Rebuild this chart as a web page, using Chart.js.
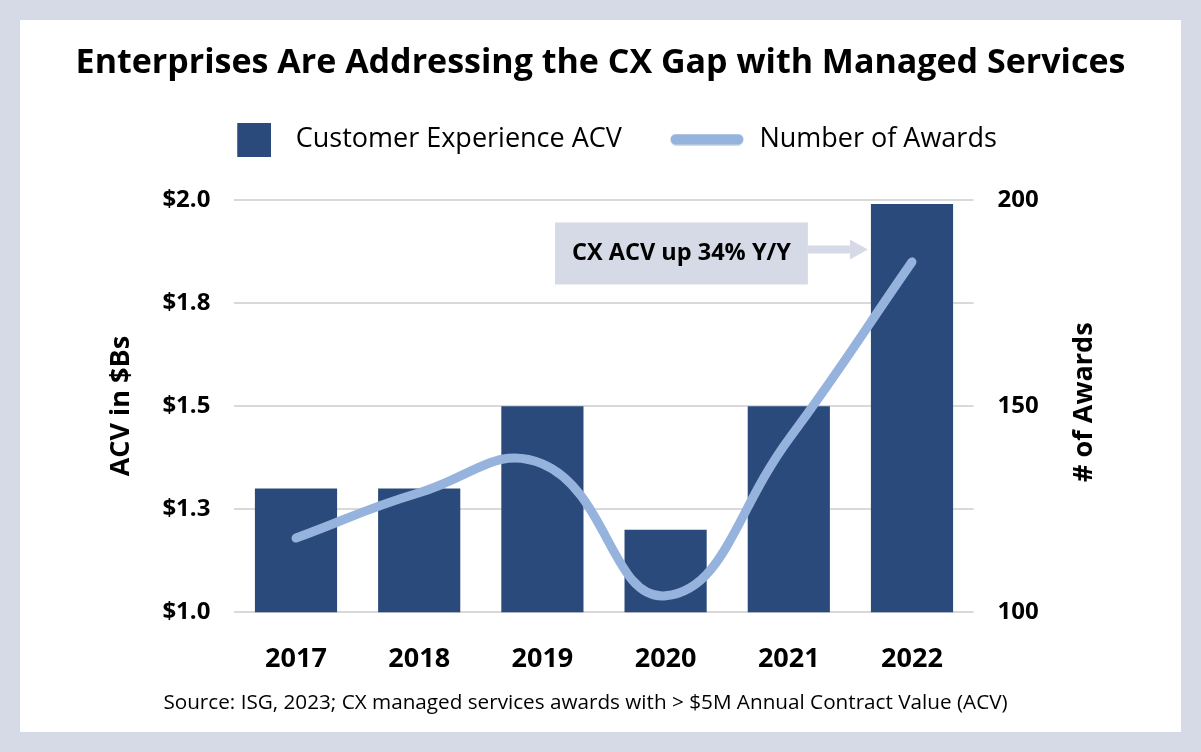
<!DOCTYPE html>
<html>
<head>
<meta charset="utf-8">
<title>Enterprises Are Addressing the CX Gap with Managed Services</title>
<script src="https://cdn.jsdelivr.net/npm/chart.js@4.4.1/dist/chart.umd.min.js"></script>
<style>
  html, body { margin: 0; padding: 0; }
  body { width: 1201px; height: 752px; background: #d5dae6; overflow: hidden; }
  .card { position: absolute; left: 20px; top: 20px; width: 1161px; height: 712px; background: #fff; }
</style>
</head>
<body>
<div class="card"><canvas id="cxChart"></canvas></div>
<script>
const years = ["2017", "2018", "2019", "2020", "2021", "2022"];
const acvBillions = [1.30, 1.30, 1.50, 1.20, 1.50, 1.99];
const awardCounts = [118, 129, 136, 104, 142, 185];
const acvTicks = [1.0, 1.25, 1.5, 1.75, 2.0];
const awardTicks = [100, 150, 200];

const calloutText = "CX ACV up 34% Y/Y";
const calloutAt = 1.88; // ACV level the arrow points at, beside the 2022 bar
const sourceNote = "Source: ISG, 2023; CX managed services awards with > $5M Annual Contract Value (ACV)";

const BAR_COLOR = "#2a4a7b";
const LINE_COLOR = "#95b3dc";
const CALLOUT_COLOR = "#d5dae6";
const GRID_COLOR = "#d9d9d9";

Chart.defaults.font.family = "'Open Sans', sans-serif";
Chart.defaults.color = "#000";

// legend markers: a square for the bars, a thick rounded stroke for the line
function squareMarker() {
  const c = document.createElement("canvas");
  c.width = 56; c.height = 34;
  const g = c.getContext("2d");
  g.fillStyle = BAR_COLOR;
  g.fillRect(22, 0, 34, 34);
  return c;
}
function lineMarker() {
  const c = document.createElement("canvas");
  c.width = 74; c.height = 12;
  const g = c.getContext("2d");
  g.strokeStyle = LINE_COLOR;
  g.lineWidth = 11;
  g.lineCap = "round";
  g.beginPath();
  g.moveTo(6, 6);
  g.lineTo(68, 6);
  g.stroke();
  return c;
}

//callout box + arrow, right axis title (reads bottom to top), source line
const extras = {
  id: "extras",
  afterDatasetsDraw(chart) {
    const { ctx, scales } = chart;
    const bar = chart.getDatasetMeta(0).data[years.length - 1];
    const tipX = bar.x - bar.width / 2 - 3;
    const tipY = scales.y.getPixelForValue(calloutAt);
    ctx.save();
    ctx.font = "bold 23.5px 'Open Sans'";
    const boxW = ctx.measureText(calloutText).width + 34;
    const boxH = 62;
    const boxR = tipX - 60;
    const boxL = boxR - boxW;
    const boxT = tipY + 4 - boxH / 2;
    ctx.fillStyle = CALLOUT_COLOR;
    ctx.fillRect(boxL, boxT, boxW, boxH);
    ctx.fillRect(boxR, tipY - 4, 42, 8);
    ctx.beginPath();
    ctx.moveTo(boxR + 42, tipY - 10);
    ctx.lineTo(tipX, tipY);
    ctx.lineTo(boxR + 42, tipY + 10);
    ctx.closePath();
    ctx.fill();
    ctx.fillStyle = "#000";
    ctx.textAlign = "center";
    ctx.textBaseline = "middle";
    ctx.fillText(calloutText, boxL + boxW / 2, boxT + boxH / 2);
    ctx.restore();
  },
  afterDraw(chart) {
    const { ctx, chartArea } = chart;
    const s = chart.scales.y2;
    ctx.save();
    ctx.fillStyle = "#000";
    ctx.textAlign = "center";
    ctx.textBaseline = "middle";
    ctx.translate(s.right - 97, (chartArea.top + chartArea.bottom) / 2 - 4);
    ctx.rotate(-Math.PI / 2);
    ctx.font = "bold 27px 'Open Sans'";
    ctx.fillText("# of Awards", 0, 0);
    ctx.restore();

    const x = chart.scales.x;
    ctx.save();
    ctx.fillStyle = "#000";
    ctx.textAlign = "center";
    ctx.textBaseline = "middle";
    ctx.font = "20.7px 'Open Sans'";
    ctx.fillText(sourceNote, chart.width / 2 - 15, x.bottom - 29);
    ctx.restore();
  }
};

const ctx = document.getElementById("cxChart");
new Chart(ctx, {
  data: {
    labels: years,
    datasets: [
      {
        type: "bar",
        label: "Customer Experience ACV",
        data: acvBillions,
        backgroundColor: BAR_COLOR,
        borderWidth: 0,
        barPercentage: 0.667,
        categoryPercentage: 1,
        yAxisID: "y",
        order: 1,
      },
      {
        type: "line",
        label: "Number of Awards",
        data: awardCounts,
        borderColor: LINE_COLOR,
        borderWidth: 9,
        borderCapStyle: "round",
        borderJoinStyle: "round",
        tension: 0.45,
        pointRadius: 0,
        fill: false,
        yAxisID: "y2",
        order: 0,
      },
    ],
  },
  options: {
    responsive: true,
    maintainAspectRatio: false,
    animation: false,
    events: [],
    layout: { padding: 0 },
    plugins: {
      tooltip: { enabled: false },
      title: {
        display: true,
        text: "Enterprises Are Addressing the CX Gap with Managed Services",
        font: { size: 34, weight: "bold", lineHeight: 1 },
        padding: { top: 26, bottom: 0 },
      },
      legend: {
        position: "top",
        labels: {
          usePointStyle: true,
          pointStyleWidth: 78,
          padding: 46,
          font: { size: 27 },
          generateLabels: (chart) => [
            { text: chart.data.datasets[0].label, pointStyle: squareMarker(), fillStyle: BAR_COLOR, lineWidth: 0, datasetIndex: 0 },
            { text: chart.data.datasets[1].label, pointStyle: lineMarker(), fillStyle: LINE_COLOR, lineWidth: 0, datasetIndex: 1 },
          ],
        },
      },
      // empty block = gap between legend and plot
      subtitle: {
        display: true,
        text: "",
        position: "top",
        weight: 500,
        font: { size: 10 },
        padding: { top: 25, bottom: 0 },
      },
    },
    scales: {
      x: {
        grid: { display: false },
        border: { display: false },
        ticks: { padding: 23, font: { size: 27, weight: "bold" } },
        // room under the year labels for the source line
        afterFit: (s) => { s.height = 119.7; },
      },
      y: {
        position: "left",
        min: 1,
        max: 2,
        afterBuildTicks: (s) => { s.ticks = acvTicks.map((v) => ({ value: v })); },
        ticks: {
          padding: 24,
          font: { size: 24, weight: "bold" },
          callback: (v) => "$" + v.toFixed(1),
        },
        grid: { color: GRID_COLOR, lineWidth: 2, drawTicks: false },
        border: { display: false },
        title: {
          display: true,
          text: "ACV in $Bs",
          font: { size: 27, weight: "bold" },
          padding: { top: 85, bottom: 0 },
        },
        afterFit: (s) => { s.width = 214.4; },
      },
      y2: {
        position: "right",
        min: 100,
        max: 200,
        afterBuildTicks: (s) => { s.ticks = awardTicks.map((v) => ({ value: v })); },
        ticks: { padding: 24, font: { size: 24, weight: "bold" } },
        grid: { display: false, drawTicks: false },
        border: { display: false },
        afterFit: (s) => { s.width = 207.4; },
      },
    },
  },
  plugins: [extras],
});
</script>
</body>
</html>
